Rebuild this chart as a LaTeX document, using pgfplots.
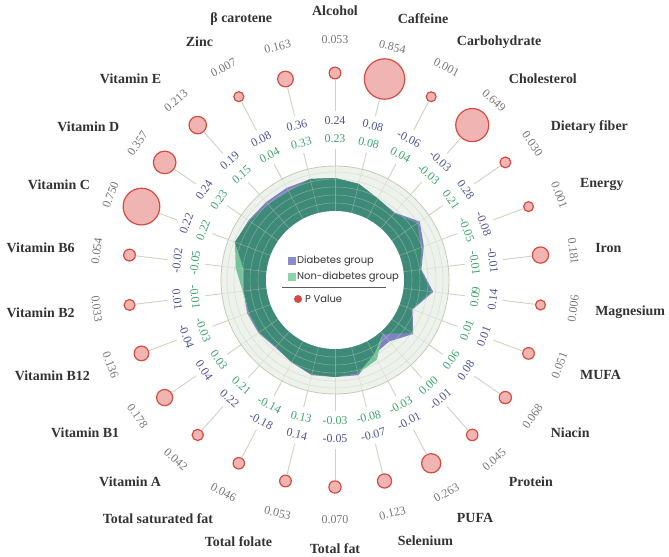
\documentclass[border=0pt]{standalone}
\usepackage{fontspec}
\setmainfont{Liberation Serif}
\newfontfamily\pop{Poppins}
\usepackage{pgfplots}
\usepackage{pgfplotstable}
\pgfplotsset{compat=1.18}

\definecolor{cblue}{HTML}{7F82C2}
\definecolor{cgreen}{HTML}{72C29A}
\definecolor{cteal}{HTML}{3E8A78}
\definecolor{ring}{HTML}{EEF2EC}
\definecolor{gridc}{HTML}{C5CDB5}
\definecolor{segc}{HTML}{CFD3BF}
\definecolor{pred}{HTML}{D84A3F}
\definecolor{ppink}{HTML}{F0B5B3}
\definecolor{tblue}{HTML}{4F5597}
\definecolor{tgreen}{HTML}{3EA66C}
\definecolor{tgray}{HTML}{777777}
\definecolor{tdark}{HTML}{333333}
\definecolor{lblue}{HTML}{8A8DC8}
\definecolor{lgreen}{HTML}{8FD3A8}

% angle (deg), radar radius of each group (px), overlap, bubble radius, p value
\pgfplotstableread{
ang rB rG rO rb p
90 102 102 102 207 0.053
76.1538 99 99 99 207 0.854
62.3077 92 92 92 207 0.001
48.4615 90 89 89 207 0.649
34.6154 103 100 100 207 0.030
20.7692 95 92 92 207 0.001
6.9231 87 86 86 207 0.181
-6.9231 99 97 97 207 0.006
-20.7692 83 82 82 207 0.051
-34.6154 95 94 94 207 0.068
-48.4615 82 72 72 207 0.045
-62.3077 84 90 84 207 0.263
-76.1538 98 96 96 207 0.123
-90 97 97 97 207 0.070
-103.8462 98 97 97 207 0.053
-117.6923 93 93 93 207 0.046
-131.5385 90 89 89 207 0.042
-145.3846 93 92 92 207 0.178
-159.2308 94 92 92 207 0.136
-173.0769 92 93 92 207 0.033
-186.9231 92 100 92 207 0.054
-200.7692 107 107 107 207 0.750
-214.6154 105 104 104 207 0.357
-228.4615 104 101 101 207 0.213
-242.3077 104 100 100 207 0.007
-256.1538 104 104 104 207 0.163
}\radial

\begin{document}
\begin{tikzpicture}
\useasboundingbox (0,0) rectangle (669bp,557bp);
\begin{scope}[shift={(335bp,277bp)},x=1bp,y=1bp]
  \fill[ring] (0,0) circle (114);
\end{scope}

\begin{axis}[at={(0,0)},anchor=south west,x=1bp,y=1bp,
  xmin=-335,xmax=334,ymin=-277,ymax=280,hide axis,clip=false]
  \addplot[fill=cblue,draw=none,data cs=polar] table[x=ang,y=rB]{\radial};
  \addplot[fill=cgreen,draw=none,data cs=polar] table[x=ang,y=rG]{\radial};
  \addplot[fill=cteal,draw=none,data cs=polar] table[x=ang,y=rO]{\radial};
  \addplot[scatter,only marks,mark=*,data cs=polar,line width=1.2pt,
    scatter/use mapped color={draw=pred,fill=ppink},
    visualization depends on={\thisrow{p}\as\pv},
    scatter/@pre marker code/.append style={/tikz/mark size={4.9+18*\pv}}]
    table[x=ang,y=rb]{\radial};
\end{axis}

\begin{scope}[shift={(335bp,277bp)},x=1bp,y=1bp]
  % ring grid
  \foreach \r in {77,85,93,101,108}
    \draw[gridc,opacity=0.45,line width=0.6pt] (0,0) circle (\r);
  \foreach \k in {0,...,25}
    \draw[gridc,opacity=0.45,line width=0.6pt] ({90-\k*360/26}:68) -- ({90-\k*360/26}:114);
  \draw[gridc,line width=0.8pt] (0,0) circle (114);
  \fill[white] (0,0) circle (69);

  \foreach \i/\nm/\bv/\gv/\pv in {
    0/Alcohol/0.24/0.23/0.053,
    1/Caffeine/0.08/0.08/0.854,
    2/Carbohydrate/-0.06/0.04/0.001,
    3/Cholesterol/-0.03/-0.03/0.649,
    4/Dietary fiber/0.28/0.21/0.030,
    5/Energy/-0.08/-0.05/0.001,
    6/Iron/-0.01/-0.01/0.181,
    7/Magnesium/0.14/0.09/0.006,
    8/MUFA/0.01/0.01/0.051,
    9/Niacin/0.08/0.06/0.068,
    10/Protein/-0.01/0.00/0.045,
    11/PUFA/-0.01/-0.03/0.263,
    12/Selenium/-0.07/-0.08/0.123,
    13/Total fat/-0.05/-0.03/0.070,
    14/Total folate/0.14/0.13/0.053,
    15/Total saturated fat/-0.18/-0.14/0.046,
    16/Vitamin A/0.22/0.21/0.042,
    17/Vitamin B1/0.04/0.03/0.178,
    18/Vitamin B12/-0.04/-0.03/0.136,
    19/Vitamin B2/0.01/-0.01/0.033,
    20/Vitamin B6/-0.02/-0.05/0.054,
    21/Vitamin C/0.22/0.22/0.750,
    22/Vitamin D/0.24/0.23/0.357,
    23/Vitamin E/0.19/0.15/0.213,
    24/Zinc/0.08/0.04/0.007,
    25/β carotene/0.36/0.33/0.163}{
    \pgfmathsetmacro\th{90-\i*360/26}
    \pgfmathsetmacro\rr{-\i*360/26}
    \pgfmathsetmacro\rot{\rr<-270 ? \rr+360 : (\rr<-90 ? \rr+180 : \rr)}
    \pgfmathsetmacro\ys{7*sin(\th)}
    \pgfmathsetmacro\be{207-4.9-18*\pv-0.4}
    \ifnum\i=0 \def\anc{center}\else\ifnum\i=13 \def\anc{center}\else
      \ifnum\i<13 \def\anc{west}\else\def\anc{east}\fi\fi\fi
    \draw[segc,line width=0.9pt] (\th:114) -- (\th:131);
    \draw[segc,line width=0.9pt] (\th:169) -- (\th:\be);
    \node[rotate=\rot,inner sep=0pt,text=tgreen,font=\fontsize{12}{14}\selectfont] at (\th:141) {\gv};
    \node[rotate=\rot,inner sep=0pt,text=tblue,font=\fontsize{12}{14}\selectfont] at (\th:159) {\bv};
    \node[rotate=\rot,inner sep=0pt,text=tgray,font=\fontsize{12}{14}\selectfont] at (\th:240) {\pv};
    \node[anchor=\anc,inner sep=0pt,text=tdark,yshift=\ys bp,
      font=\fontsize{14}{16}\selectfont\bfseries] at (\th:262) {\nm};
  }

  % legend
  \fill[lblue] (-47,15) rectangle (-39,23);
  \node[anchor=west,inner sep=0pt,text=tdark,font=\pop\fontsize{10}{12}\selectfont] at (-38,19) {Diabetes group};
  \fill[lgreen] (-47,-1) rectangle (-39,7);
  \node[anchor=west,inner sep=0pt,text=tdark,font=\pop\fontsize{10}{12}\selectfont] at (-38,3) {Non-diabetes group};
  \draw[tdark!80,line width=0.8pt] (-53,-7) -- (51,-7);
  \fill[pred] (-37,-19) circle (4);
  \node[anchor=west,inner sep=0pt,text=tdark,font=\pop\fontsize{10}{12}\selectfont] at (-30,-19) {P Value};
\end{scope}
\end{tikzpicture}
\end{document}
